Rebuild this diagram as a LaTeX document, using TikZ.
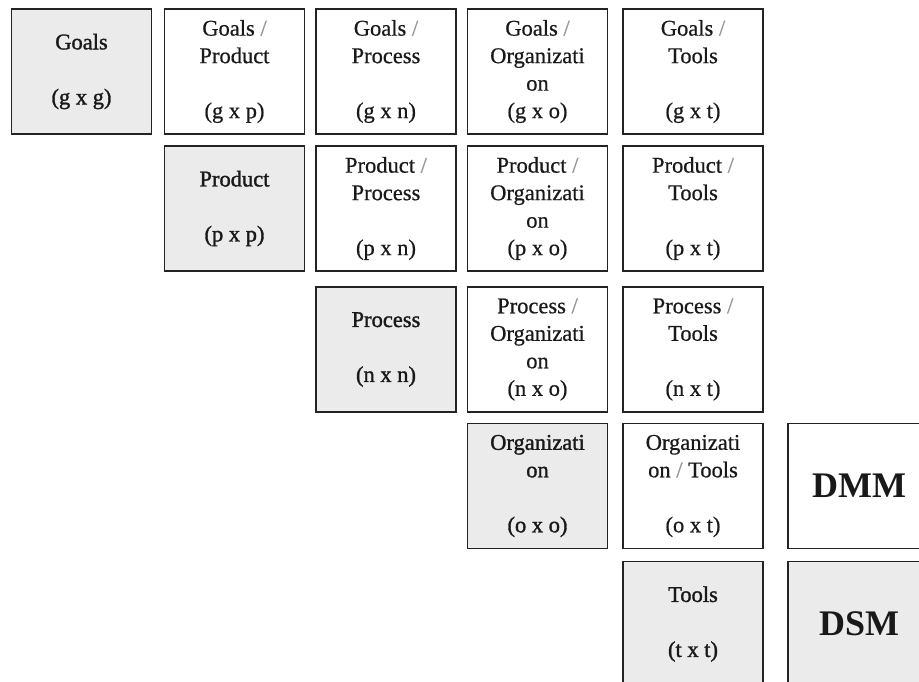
\documentclass[tikz,border=0pt]{standalone}
\usepackage{fontspec}
\setmainfont{Liberation Serif}
\newfontfamily\cellfont[FakeBold=0.6]{Liberation Serif}
\newfontfamily\diagfont[FakeBold=1.4]{Liberation Serif}
\definecolor{cellfill}{RGB}{235,235,235}
\definecolor{cellline}{RGB}{35,35,35}
\definecolor{slashgray}{RGB}{150,150,150}
\newcommand{\sep}{\textcolor{slashgray}{/}}
\begin{document}
\begin{tikzpicture}[x=1pt,y=-1pt,
  cell/.style={draw=cellline,line width=1.4pt,rectangle,
    minimum width=140pt,minimum height=125pt,inner sep=0pt,outer sep=0pt,
    align=center,text=black!90},
  diag/.style={cell,fill=cellfill,font=\diagfont\fontsize{22.5}{27.5}\selectfont},
  offd/.style={cell,fill=white,font=\cellfont\fontsize{22.5}{27.5}\selectfont},
  big/.style={font=\fontsize{36}{40}\selectfont\bfseries,text=black!90}]
\useasboundingbox (0,0) rectangle (919,682);
\clip (0,0) rectangle (919,682);
% column and row centres
\def\ca{81.5}\def\cb{234.5}\def\cc{386}\def\cd{537.5}\def\ce{693}\def\cf{859}
\def\ra{71.5}\def\rb{208.5}\def\rc{349.5}\def\rd{486}\def\re{624}
% row 1: goals
\node[diag] (gg) at (\ca,\ra) {Goals\\ \strut\\(g x g)};
\node[offd] (gp) at (\cb,\ra) {Goals \sep\\Product\\ \strut\\(g x p)};
\node[offd] (gn) at (\cc,\ra) {Goals \sep\\Process\\ \strut\\(g x n)};
\node[offd] (go) at (\cd,\ra) {Goals \sep\\Organizati\\on\\(g x o)};
\node[offd] (gt) at (\ce,\ra) {Goals \sep\\Tools\\ \strut\\(g x t)};
% row 2: product
\node[diag] (pp) at (\cb,\rb) {Product\\ \strut\\(p x p)};
\node[offd] (pn) at (\cc,\rb) {Product \sep\\Process\\ \strut\\(p x n)};
\node[offd] (po) at (\cd,\rb) {Product \sep\\Organizati\\on\\(p x o)};
\node[offd] (pt) at (\ce,\rb) {Product \sep\\Tools\\ \strut\\(p x t)};
% row 3: process
\node[diag] (nn) at (\cc,\rc) {Process\\ \strut\\(n x n)};
\node[offd] (no) at (\cd,\rc) {Process \sep\\Organizati\\on\\(n x o)};
\node[offd] (nt) at (\ce,\rc) {Process \sep\\Tools\\ \strut\\(n x t)};
% row 4: organization
\node[diag] (oo) at (\cd,\rd) {Organizati\\on\\ \strut\\(o x o)};
\node[offd] (ot) at (\ce,\rd) {Organizati\\on \sep{} Tools\\ \strut\\(o x t)};
% row 5: tools
\node[diag] (tt) at (\ce,\re) {Tools\\ \strut\\(t x t)};
% legend
\node[offd,minimum width=142pt] (dmm) at (\cf,\rd) {};
\node[big] (dmmtext) at (dmm) {DMM};
\node[diag,minimum width=142pt] (dsm) at (\cf,\re) {};
\node[big] (dsmtext) at (dsm) {DSM};
\end{tikzpicture}
\end{document}
